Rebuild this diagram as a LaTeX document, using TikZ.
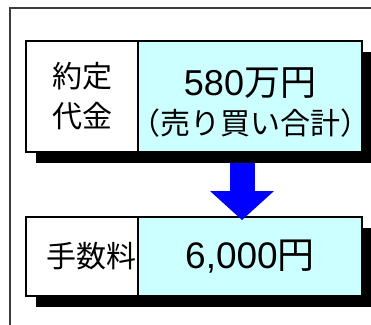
\documentclass[tikz,border=0pt]{standalone}
\usepackage{fontspec}
\setmainfont{Liberation Sans}
\newfontfamily\jp{Noto Sans CJK JP}
\usetikzlibrary{arrows.meta,positioning,backgrounds}
\definecolor{valuecyan}{HTML}{CCFFFF}
\definecolor{flowblue}{HTML}{0000FF}
\definecolor{frameedge}{HTML}{3C3C3C}

\begin{document}
\begin{tikzpicture}[
  x=1pt,
  y=-1pt,
  line join=miter,
  frameline/.style={draw=frameedge,line width=1.4pt},
  labelbox/.style={draw=black,fill=white,line width=1.2pt,outer sep=0pt,inner sep=0pt,
    minimum width=112pt,align=center,font=\jp\fontsize{30}{40}\selectfont},
  valuebox/.style={draw=black,fill=valuecyan,line width=1.2pt,outer sep=0pt,inner sep=0pt,
    text width=224pt,align=center},
  shadowbox/.style={fill=black},
  flowarrow/.style={draw=flowblue,line width=25pt,
    -{Triangle[width=64pt,length=29pt,line width=0pt]}}
]
  \useasboundingbox (0,0) rectangle (371,324);
  \clip (0,0) rectangle (371,324);

  % Outer frame, cut off at the right and bottom.
  \draw[frameline] (10,330) -- (10,8) -- (380,8);

  % Contract amount row.
  \node[labelbox,minimum height=111pt] (priceLabel) at (82,96.5) {約定\\代金};
  \node[valuebox,minimum height=111pt,right=0pt of priceLabel] (priceValue)
    {\fontsize{36}{40}\selectfont\rule{0pt}{40pt}580{\jp 万円}\\[9pt]
     {\jp\fontsize{30}{30}\selectfont \makebox[224pt]{（売り買い合計）}}};

  % Commission row.
  \node[labelbox,minimum height=79pt,text width=108pt,align=right] (feeLabel) at (82,256.5) {手数料};
  \node[valuebox,minimum height=79pt,right=0pt of feeLabel] (feeValue)
    {\fontsize{37}{40}\selectfont 6,000{\jp 円}};

  % Drop shadows sit behind the boxes.
  \begin{scope}[on background layer]
    \path[shadowbox] ([shift={(10,11)}]priceLabel.north west) rectangle ([shift={(10,11)}]priceValue.south east);
    \path[shadowbox] ([shift={(10,11)}]feeLabel.north west) rectangle ([shift={(10,11)}]feeValue.south east);
  \end{scope}

  % Block arrow between the rows.
  \coordinate (arrowTop) at (242,163);
  \coordinate (arrowTip) at (242,220);
  \draw[flowarrow] (arrowTop) -- (arrowTip);
\end{tikzpicture}
\end{document}
